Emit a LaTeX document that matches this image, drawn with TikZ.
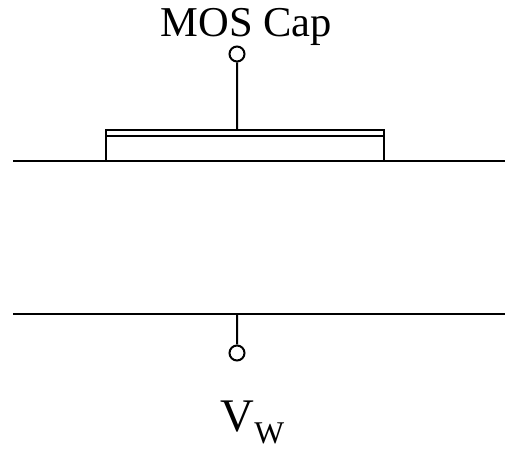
\documentclass[tikz,border=0pt]{standalone}
\usepackage{fontspec}
\setmainfont{Liberation Serif}
\tikzset{
  wire/.style={line width=1.15pt},
  pin/.style={draw,circle,line width=1.15pt,inner sep=0pt,minimum size=0.3cm,fill=white},
}
\begin{document}
\begin{tikzpicture}[scale=0.02]
\useasboundingbox (0,0) rectangle (508,451);
% oxide and plate
\coordinate (gate) at (237,321);
\coordinate (topL) at (13,290); \coordinate (topR) at (505,290);
\coordinate (botL) at (13,137); \coordinate (botR) at (505,137);
\coordinate (well) at (237,137);
\draw[wire] (topL) -- (topR);
\draw[wire] (botL) -- (botR);
\draw[wire] (106,290) -- (106,321) -- (384,321) -- (384,290);
\draw[wire] (106,315) -- (384,315);
% terminals
\node[pin] (pinG) at (237,397) {};
\node[pin] (pinW) at (237,98) {};
\draw[wire] (gate) -- (pinG);
\draw[wire] (well) -- (pinW);
\node[anchor=base,inner sep=0pt,font=\fontsize{24.2}{28}\selectfont] (capLabel) at (246.5,414) {MOS Cap};
\node[anchor=base,inner sep=0pt,font=\fontsize{26.6}{30}\selectfont] (wellLabel) at (252.5,20) {V{\fontsize{18}{20}\selectfont\raisebox{-7pt}{W}}};
\end{tikzpicture}
\end{document}
